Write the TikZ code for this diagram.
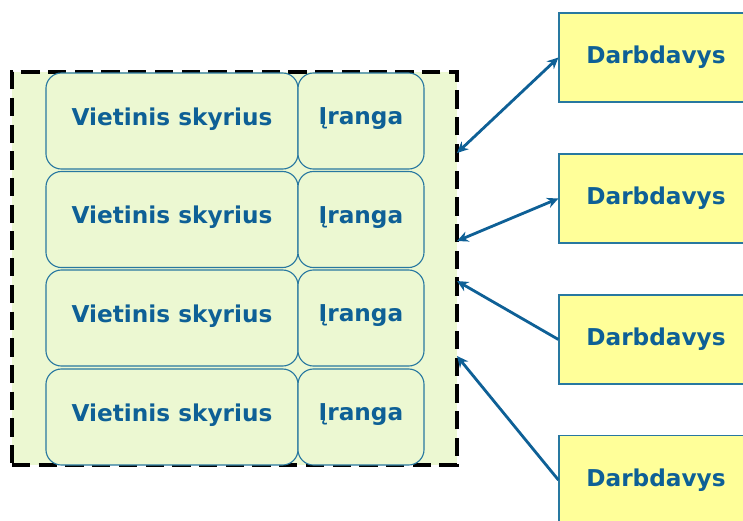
\documentclass[tikz,border=0pt]{standalone}
\usepackage{fontspec}
\setsansfont{DejaVu Sans}
\usetikzlibrary{arrows.meta}
\definecolor{grpfill}{RGB}{236,248,210}
\definecolor{bossfill}{RGB}{255,255,153}
\definecolor{edge}{RGB}{40,120,160}
\definecolor{ink}{RGB}{14,96,150}
\tikzset{
  unit/.style={draw=edge, fill=grpfill, rounded corners=11pt, line width=0.8pt,
    minimum height=2.4cm, inner sep=0pt, text=ink, text depth=6.5pt,
    font=\sffamily\bfseries\fontsize{16.5}{19}\selectfont},
  boss/.style={draw=edge, fill=bossfill, line width=0.8pt, minimum width=4.85cm,
    minimum height=2.225cm, inner sep=0pt, text=ink,
    font=\sffamily\bfseries\fontsize{16.5}{19}\selectfont},
  link/.style={draw=ink, line width=2pt, {Stealth[length=8pt,width=7.5pt]}-{Stealth[length=8pt,width=7.5pt]}},
  linkin/.style={draw=ink, line width=2pt, {Stealth[length=8pt,width=7.5pt]}-}
}
\begin{document}
\begin{tikzpicture}[x=0.025cm, y=-0.025cm]
                \useasboundingbox (0,0) rectangle (743,520);
                \begin{scope}
                \clip (0,0) rectangle (743,520);

                % dashed group
                \node[draw=black, fill=grpfill, line width=2.8pt, dash pattern=on 13pt off 6pt,
                      minimum width=11.125cm, minimum height=9.825cm, inner sep=0pt] (grp) at (234.5,268.5) {};

                \node[unit, minimum width=6.3cm] (loc1) at (172,121) {Vietinis skyrius};
                \node[unit, minimum width=6.3cm] (loc2) at (172,219.5) {Vietinis skyrius};
                \node[unit, minimum width=6.3cm] (loc3) at (172,318) {Vietinis skyrius};
                \node[unit, minimum width=6.3cm] (loc4) at (172,417) {Vietinis skyrius};

                \node[unit, minimum width=3.15cm] (eq1) at (361,121) {Įranga};
                \node[unit, minimum width=3.15cm] (eq2) at (361,219.5) {Įranga};
                \node[unit, minimum width=3.15cm] (eq3) at (361,318) {Įranga};
                \node[unit, minimum width=3.15cm] (eq4) at (361,417) {Įranga};

                \node[boss] (emp1) at (656,57.5) {Darbdavys};
                \node[boss] (emp2) at (656,198.5) {Darbdavys};
                \node[boss] (emp3) at (656,339.5) {Darbdavys};
                \node[boss] (emp4) at (656,480) {Darbdavys};

                \coordinate (in1) at (457,153);
                \coordinate (in2) at (457,241);
                \coordinate (in3) at (457,281);
                \coordinate (in4) at (457,356);

                \draw[link] (in1) -- (emp1.west);
                \draw[link] (in2) -- (emp2.west);
                \draw[linkin] (in3) -- (emp3.west);
                \draw[linkin] (in4) -- (emp4.west);
                \end{scope}
            \end{tikzpicture}
\end{document}
